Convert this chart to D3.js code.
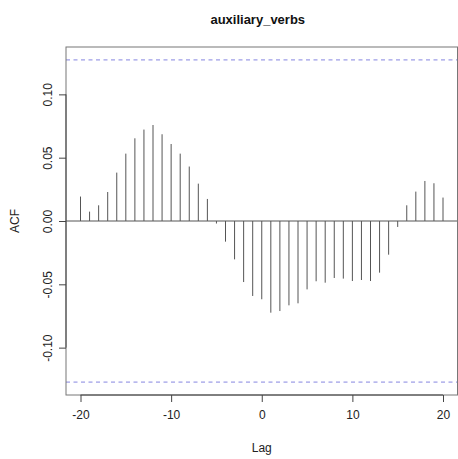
<!DOCTYPE html>
<html>
<head>
<meta charset="utf-8">
<script src="https://cdn.jsdelivr.net/npm/d3@7"></script>
<style>
  body { margin: 0; background: #fff; }
  svg { font-family: "Liberation Sans", Arial, sans-serif; }
</style>
</head>
<body>
<svg id="chart" width="458" height="459"></svg>
<script>
// cross-correlation values, lags -20..20
const lags = d3.range(-20, 21);
const acf = [
  0.0193, 0.0074, 0.0124, 0.0229, 0.0382, 0.0532, 0.0653, 0.0722, 0.0758, 0.0685,
  0.0608, 0.0532, 0.0430, 0.0295, 0.0174, -0.0020, -0.0163, -0.0303, -0.0482, -0.0592,
  -0.0618, -0.0724, -0.0711, -0.0666, -0.0650, -0.0540, -0.0476, -0.0487, -0.0450, -0.0455,
  -0.0474, -0.0466, -0.0474, -0.0408, -0.0266, -0.0047, 0.0124, 0.0232, 0.0316, 0.0298,
  0.0185
];
const ci = 0.1272;
const xTicks = [-20, -10, 0, 10, 20];
const yTicks = [-0.10, -0.05, 0.00, 0.05, 0.10];

const svg = d3.select("#chart");
const plotL = 66, plotR = 457.5, plotT = 47, plotB = 395;

const x = d3.scaleLinear().domain([-21.6, 21.6]).range([plotL, plotR]);
const y = d3.scaleLinear().domain([-0.1374, 0.1374]).range([plotB, plotT]);

// plain hyphen minus, like R
const fmtX = d => d3.format("d")(d).replace("\u2212", "-");
const fmtY = d => d3.format(".2f")(d).replace("\u2212", "-");

// CI dashed lines
svg.selectAll("line.ci")
  .data([ci, -ci])
  .join("line")
  .attr("class", "ci")
  .attr("x1", plotL).attr("x2", plotR)
  .attr("y1", d => y(d)).attr("y2", d => y(d))
  .attr("stroke", "#8585e0")
  .attr("stroke-dasharray", "4,3.5")
  .attr("stroke-width", 1);

// zero line
svg.append("line")
  .attr("x1", plotL).attr("x2", plotR)
  .attr("y1", y(0)).attr("y2", y(0))
  .attr("stroke", "#555");

// spikes
svg.selectAll("line.bar")
  .data(lags)
  .join("line")
  .attr("class", "bar")
  .attr("x1", d => x(d)).attr("x2", d => x(d))
  .attr("y1", y(0))
  .attr("y2", (d, i) => y(acf[i]))
  .attr("stroke", "#555")
  .attr("stroke-width", 1);

// box
svg.append("rect")
  .attr("x", plotL).attr("y", plotT)
  .attr("width", plotR - plotL).attr("height", plotB - plotT)
  .attr("fill", "none")
  .attr("stroke", "#777");

// x axis
const xAxis = svg.append("g").attr("transform", `translate(0,${plotB})`)
  .call(d3.axisBottom(x).tickValues(xTicks).tickSize(7).tickPadding(8).tickFormat(fmtX));
xAxis.select(".domain").attr("d", `M${x(-20)},0H${x(20)}`).attr("stroke", "#444");
xAxis.selectAll(".tick line").attr("stroke", "#444");
xAxis.selectAll("text").attr("font-size", 12).attr("fill", "#222")
  .attr("font-family", "Liberation Sans, Arial, sans-serif");

// y axis
const yAxis = svg.append("g").attr("transform", `translate(${plotL},0)`)
  .call(d3.axisLeft(y).tickValues(yTicks).tickSize(7).tickFormat(fmtY));
yAxis.select(".domain").attr("d", `M0,${y(-0.10)}V${y(0.10)}`).attr("stroke", "#444");
yAxis.selectAll(".tick line").attr("stroke", "#444");
yAxis.selectAll(".tick text")
  .attr("font-size", 12).attr("fill", "#222")
  .attr("font-family", "Liberation Sans, Arial, sans-serif")
  .attr("x", null)
  .attr("text-anchor", "middle")
  .attr("transform", "translate(-18,0) rotate(-90)")
  .attr("dy", "0.35em");

// titles
svg.append("text")
  .attr("x", (plotL + plotR) / 2 - 4).attr("y", 24)
  .attr("text-anchor", "middle")
  .attr("font-size", 13).attr("font-weight", "bold").attr("fill", "#111")
  .text("auxiliary_verbs");

svg.append("text")
  .attr("x", x(0)).attr("y", 452)
  .attr("text-anchor", "middle")
  .attr("font-size", 12).attr("fill", "#222")
  .text("Lag");

svg.append("text")
  .attr("transform", `translate(19,${y(0)}) rotate(-90)`)
  .attr("text-anchor", "middle")
  .attr("font-size", 12).attr("fill", "#222")
  .text("ACF");
</script>
</body>
</html>
